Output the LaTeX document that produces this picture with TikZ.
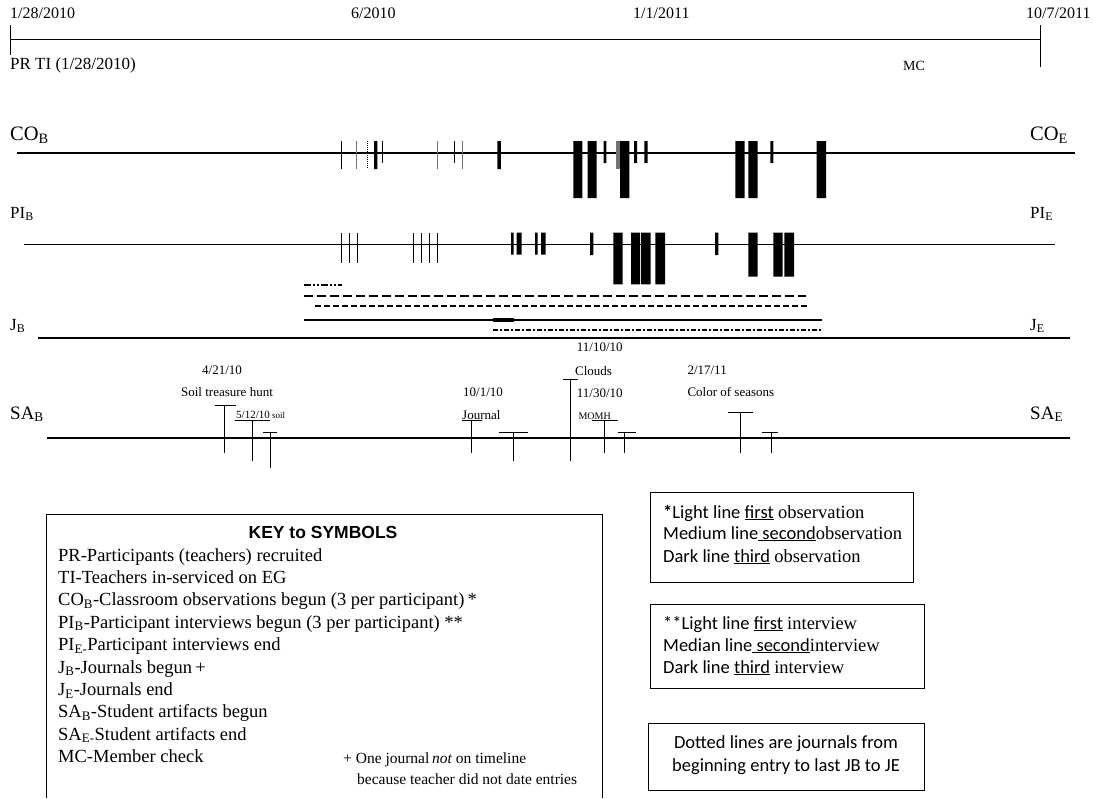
\documentclass[tikz,border=0pt]{standalone}
\usepackage{fontspec}
\setmainfont{Liberation Serif}
\newfontfamily\keyfont{Liberation Sans}
\newfontfamily\calfont{Carlito}
\usepackage{tikz}

\begin{document}
\begin{tikzpicture}[x=1pt, y=-1pt, every node/.style={inner sep=0pt, anchor=base west},
    datefont/.style={font=\fontsize{16}{18}\selectfont},
    rowfont/.style={font=\fontsize{17}{19}\selectfont},
    safont/.style={font=\fontsize{13}{15}\selectfont},
    keyline/.style={font=\fontsize{18.5}{22}\selectfont},
    gry/.style={black!55}]
      \useasboundingbox (0,0) rectangle (1094,798);
      % time axis
      \draw[line width=1pt] (10,39) -- (1040,39);
      \draw[line width=0.8pt] (10,25) -- (10,55);
      \draw[line width=0.8pt] (1040,25) -- (1040,67);
      \node[datefont] (dStart) at (10,18) {1/28/2010};
      \node[datefont] (dJune) at (351,18) {6/2010};
      \node[datefont] (dJan) at (633,18) {1/1/2011};
      \node[datefont] (dEnd) at (1026,18) {10/7/2011};
      \node[font=\fontsize{17}{19}\selectfont] (prti) at (10,69) {PR TI (1/28/2010)};
      \node[font=\fontsize{14}{16}\selectfont] (mc) at (903,70) {MC};
      % observations
      \node[font=\fontsize{20.5}{22}\selectfont] (cob) at (10,140) {CO\textsubscript{B}};
      \node[font=\fontsize{20.5}{22}\selectfont] (coe) at (1030,140) {CO\textsubscript{E}};
      \draw[line width=1.2pt] (17,153) -- (1075,153);
      \draw[line width=1pt] (341.3,141) -- (341.3,169) (382.7,141) -- (382.7,163) (454.3,141) -- (454.3,163);
      \draw[line width=1.2pt, gry] (356.7,141) -- (356.7,169) (437.7,141) -- (437.7,169) (462.7,141) -- (462.7,169);
      \draw[line width=1.5pt, dash pattern=on 1pt off 1pt] (367.7,141) -- (367.7,169);
      \fill (374,141) rectangle (377.3,169) (497.3,141) rectangle (500.8,169);
      \fill (603.7,141) rectangle (606.3,163) (634,141) rectangle (637,163) (644.3,141) rectangle (647.7,163) (770.3,141) rectangle (773.3,163);
      \fill[gry] (616.3,141) rectangle (620,169);
      \fill (573.3,141) rectangle (582.3,198) (587.7,141) rectangle (596.7,198) (620,141) rectangle (629.3,198);
      \fill (735.3,141) rectangle (744.7,198) (748.3,141) rectangle (757.7,198) (816.7,141) rectangle (826,198);
      % interviews
      \node[rowfont] (pib) at (10,218) {PI\textsubscript{B}};
      \node[rowfont] (pie) at (1030,218) {PI\textsubscript{E}};
      \draw[line width=1.2pt] (24,244.3) -- (1055,244.3);
      \draw[line width=1pt] (341.3,232.7) -- (341.3,263.3) (349.3,232.7) -- (349.3,263.3) (357,232.7) -- (357,263.3);
      \draw[line width=1pt] (413.3,232.7) -- (413.3,263.3) (421.3,232.7) -- (421.3,263.3) (429.3,232.7) -- (429.3,263.3) (437.3,232.7) -- (437.3,263.3);
      \fill (511,232.7) rectangle (513.5,254.7) (516.7,232.7) rectangle (521.5,254.7) (535,232.7) rectangle (537.5,254.7) (541,232.7) rectangle (545.5,254.7);
      \fill (590,232.7) rectangle (593.3,255) (715,232.7) rectangle (718.3,255);
      \fill (613.3,232.7) rectangle (622.7,284.3) (631,232.7) rectangle (640.2,284.3) (641.2,232.7) rectangle (650.7,284.3) (655.3,232.7) rectangle (665,284.3);
      \fill (748.3,232.7) rectangle (757.7,276.7) (773.3,232.7) rectangle (782.7,276.7) (784.3,232.7) rectangle (794,276.7);
      % journals
      \draw[line width=2pt, dash pattern=on 7pt off 2pt on 2pt off 2pt on 2pt off 2pt] (304,285) -- (341.6,285);
      \draw[line width=2pt, dash pattern=on 9pt off 4pt] (304,296) -- (806,296);
      \draw[line width=1.5pt, dash pattern=on 6pt off 3pt] (315,306) -- (808,306);
      \draw[line width=1.2pt] (304,320) -- (822,320);
      \draw[line width=4pt] (492.6,320) -- (514,320);
      \draw[line width=2pt, dash pattern=on 5pt off 2pt on 2pt off 2pt] (492.6,330) -- (822,330);
      \node[rowfont] (jb) at (10,330) {J\textsubscript{B}};
      \node[rowfont] (je) at (1030,330) {J\textsubscript{E}};
      \draw[line width=1.2pt] (38,338) -- (1070,338);
      % student artifacts
      \node[font=\fontsize{19}{21}\selectfont] (sab) at (10,419) {SA\textsubscript{B}};
      \node[font=\fontsize{19}{21}\selectfont] (sae) at (1030,419) {SA\textsubscript{E}};
      \draw[line width=1.2pt] (47,438) -- (1070,438);
      \draw[line width=1pt] (215,405.7) -- (236,405.7) (224,405.7) -- (224,453.3);
      \draw[line width=1pt] (235,420.5) -- (270,420.5) (252,420.5) -- (252,461);
      \draw[line width=1pt] (263.3,432.7) -- (277.3,432.7) (270,432.7) -- (270,468.3);
      \draw[line width=1pt] (462,420.5) -- (482,420.5) (471.7,420.5) -- (471.7,453.3);
      \draw[line width=1pt] (499,432.3) -- (527.7,432.3) (513.3,432.3) -- (513.3,460.7);
      \draw[line width=1pt] (563.3,379) -- (577.7,379) (570.7,379) -- (570.7,460.7);
      \draw[line width=1pt] (591.7,420.5) -- (618.3,420.5) (604.7,420.5) -- (604.7,453.3);
      \draw[line width=1pt] (617.7,432.3) -- (635.7,432.3) (624.3,432.3) -- (624.3,453.3);
      \draw[line width=1pt] (728.3,412.7) -- (753.3,412.7) (740.7,412.7) -- (740.7,453.3);
      \draw[line width=1pt] (762.3,432.3) -- (778.3,432.3) (771.7,432.3) -- (771.7,453.3);
      \node[safont, anchor=base] (soilDate) at (222,374.5) {4/21/10};
      \node[safont, anchor=base] (soilHunt) at (227,396.5) {Soil treasure hunt};
      \node[font=\fontsize{11}{13}\selectfont] (soilTwo) at (236,418.5) {5/12/10};
      \node[font=\fontsize{9}{11}\selectfont] (soilWord) at (272,418.5) {soil};
      \node[safont] (jourDate) at (463,396.5) {10/1/10};
      \node[safont] (jourWord) at (462,419) {Journal};
      \node[safont] (cloudDate) at (576.7,351) {11/10/10};
      \node[safont] (cloudWord) at (575,375) {Clouds};
      \node[safont] (momhDate) at (576.7,397) {11/30/10};
      \node[font=\fontsize{10}{12}\selectfont] (momhWord) at (578.3,419) {MOMH};
      \node[safont] (colorDate) at (687.3,374.5) {2/17/11};
      \node[safont] (colorWord) at (687.3,396.5) {Color of seasons};
      % key
      \draw[line width=0.8pt] (46,798) -- (46,514) -- (602,514) -- (602,798);
      \node[anchor=center, font=\keyfont\bfseries\fontsize{17.5}{19}\selectfont] (keyTitle) at (323,532) {KEY to SYMBOLS};
      \node[keyline] (k1) at (58,561) {PR-Participants (teachers) recruited};
      \node[keyline] (k2) at (58,583.4) {TI-Teachers in-serviced on EG};
      \node[keyline] (k3) at (58,605.8) {CO\textsubscript{B}-Classroom observations begun (3 per participant)\,*};
      \node[keyline] (k4) at (58,628.2) {PI\textsubscript{B}-Participant interviews begun (3 per participant) **};
      \node[keyline] (k5) at (58,650.6) {PI\textsubscript{E-}Participant interviews end};
      \node[keyline] (k6) at (58,673) {J\textsubscript{B}-Journals begun\,+};
      \node[keyline] (k7) at (58,695.4) {J\textsubscript{E}-Journals end};
      \node[keyline] (k8) at (58,717.8) {SA\textsubscript{B}-Student artifacts begun};
      \node[keyline] (k9) at (58,740.2) {SA\textsubscript{E-}Student artifacts end};
      \node[keyline] (k10) at (58,762.6) {MC-Member check};
      \node[font=\fontsize{15.5}{18}\selectfont] (plusA) at (343,763) {+ One journal\,\textit{not} on timeline};
      \node[font=\fontsize{15.5}{18}\selectfont] (plusB) at (357,784) {because teacher did not date entries};
      % legend boxes
      \draw[line width=0.8pt] (650,492) rectangle (913,582);
      \node[keyline] (obsA) at (663,518) {\calfont\textbf{*}Light line \underline{first} \rmfamily observation};
      \node[keyline] (obsB) at (663,539) {\calfont Medium line\underline{ second}\rmfamily observation};
      \node[keyline] (obsC) at (663,562) {\calfont Dark line \underline{third} \rmfamily observation};
      \draw[line width=0.8pt] (650,604) rectangle (924,688);
      \node[keyline] (intA) at (663,629) {\calfont **Light line \underline{first} \rmfamily interview};
      \node[keyline] (intB) at (663,651) {\calfont Median line\underline{ second}\rmfamily interview};
      \node[keyline] (intC) at (663,673) {\calfont Dark line \underline{third} \rmfamily interview};
      \draw[line width=0.8pt] (648,723) rectangle (924,790);
      \node[keyline, anchor=base, font=\calfont\fontsize{18.5}{22}\selectfont] (dotA) at (786,748) {Dotted lines are journals from};
      \node[keyline, anchor=base, font=\calfont\fontsize{18.5}{22}\selectfont] (dotB) at (786,771) {beginning entry to last JB to JE};
\end{tikzpicture}
\end{document}
